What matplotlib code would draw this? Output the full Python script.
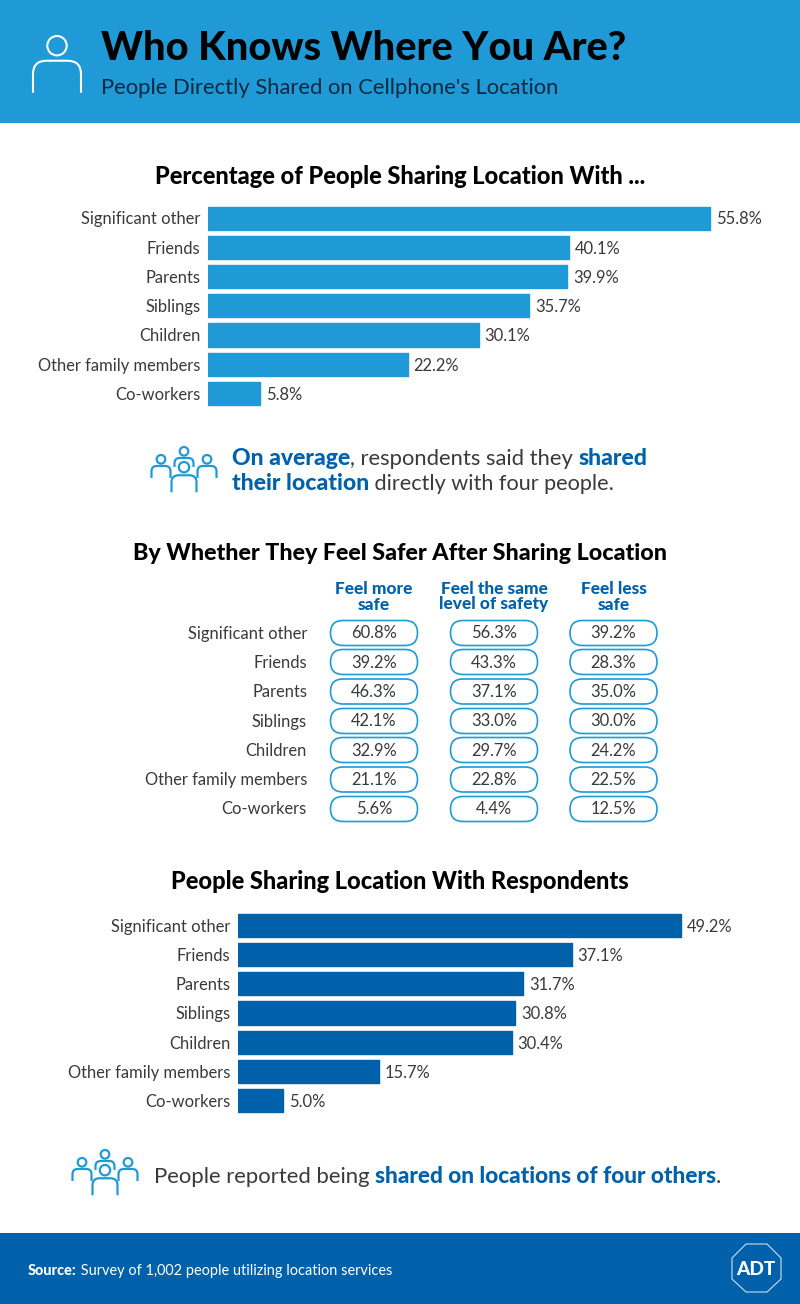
import matplotlib
matplotlib.use("Agg")
import matplotlib.pyplot as plt
from matplotlib.patches import FancyBboxPatch, Circle, Rectangle, Polygon, PathPatch
from matplotlib.path import Path

plt.rcParams['font.family'] = ['Lato', 'DejaVu Sans']

categories = ["Significant other", "Friends", "Parents", "Siblings", "Children",
              "Other family members", "Co-workers"]
sharing_with = [55.8, 40.1, 39.9, 35.7, 30.1, 22.2, 5.8]
sharing_to = [49.2, 37.1, 31.7, 30.8, 30.4, 15.7, 5.0]
feel_more = [60.8, 39.2, 46.3, 42.1, 32.9, 21.1, 5.6]
feel_same = [56.3, 43.3, 37.1, 33.0, 29.7, 22.8, 4.4]
feel_less = [39.2, 28.3, 35.0, 30.0, 24.2, 22.5, 12.5]
safety_heads = ["Feel more\nsafe", "Feel the same\nlevel of safety", "Feel less\nsafe"]

W, H = 800, 1304
LIGHT = "#1f9ad6"
DARK = "#0061ab"
TXT = "#3a3a3a"
LBL = 16.55
HEAD = 23.6

fig = plt.figure(figsize=(W / 100, H / 100), dpi=100, facecolor="white")
bg = fig.add_axes([0, 0, 1, 1])
bg.set_xlim(0, W)
bg.set_ylim(H, 0)
bg.axis("off")


def px(size):
    return size * 0.72


def T(x, y, s, size, color=TXT, weight="normal", ha="left", va="center", **kw):
    return bg.text(x, y + 1.5, s, fontsize=px(size), color=color, fontweight=weight,
                   ha=ha, va=va, **kw)


def advance(s, size, weight):
    """Width of a run including its leading and trailing spaces."""
    r = fig.canvas.get_renderer()
    a = bg.text(0, 0, "|" + s + "|", fontsize=px(size), fontweight=weight)
    b = bg.text(0, 0, "||", fontsize=px(size), fontweight=weight)
    w = a.get_window_extent(r).width - b.get_window_extent(r).width
    a.remove()
    b.remove()
    return w


def rich(x, y, parts, size):
    """Place consecutive runs of regular / bold text on a single line."""
    for s, col, w, sz in parts:
        bg.text(x, y, s, fontsize=px(sz or size), color=col, fontweight=w,
                ha="left", va="baseline")
        x += advance(s, sz or size, w)


def person(cx, top, r, w, h, lw, color):
    """Outline icon: a head circle with rounded shoulders below it."""
    bg.add_patch(Circle((cx, top + r), r, fill=False, ec=color, lw=lw))
    y0 = top + 2 * r + r * 0.55
    c = w * 0.28
    verts = [(cx - w / 2, y0 + h), (cx - w / 2, y0 + c), (cx - w / 2, y0), (cx - w / 2 + c, y0),
             (cx + w / 2 - c, y0), (cx + w / 2, y0), (cx + w / 2, y0 + c), (cx + w / 2, y0 + h)]
    codes = [Path.MOVETO, Path.LINETO, Path.CURVE3, Path.CURVE3, Path.LINETO,
             Path.CURVE3, Path.CURVE3, Path.LINETO]
    bg.add_patch(PathPatch(Path(verts, codes), fill=False, ec=color, lw=lw, capstyle="butt"))


def group(cx, top, scale=1.0):
    lw = 1.6
    s = scale
    person(cx - 23 * s, top + 8 * s, 4.3 * s, 19 * s, 12 * s, lw, LIGHT)
    person(cx + 23 * s, top + 8 * s, 4.3 * s, 19 * s, 12 * s, lw, LIGHT)
    person(cx, top, 4.3 * s, 19 * s, 9 * s, lw, LIGHT)
    person(cx, top + 15 * s, 5.2 * s, 25 * s, 17 * s, lw, LIGHT)


def bars(x0, y_top, y_bot, values, color):
    scale = 9.0
    x1 = W
    ax = fig.add_axes([x0 / W, 1 - y_bot / H, (x1 - x0) / W, (y_bot - y_top) / H])
    ax.set_xlim(0, (x1 - x0) / scale)
    ax.set_ylim(len(values) - 0.5, -0.5)
    ax.axis("off")
    ax.patch.set_alpha(0)
    pos = list(range(len(values)))
    ax.barh(pos, values, height=0.79, color=color, edgecolor=color, linewidth=1.0,
            joinstyle="round")
    for p, v, c in zip(pos, values, categories):
        ax.annotate(f"{v:.1f}%", (v, p), xytext=(4.2, -1), textcoords="offset points",
                    va="center", ha="left", fontsize=px(LBL), color=TXT)
        ax.annotate(c, (0, p), xytext=(-5.5, -1), textcoords="offset points",
                    va="center", ha="right", fontsize=px(LBL), color=TXT)


# Header and footer bands
bg.add_patch(Rectangle((0, 0), W, 123, fc=LIGHT, ec="none"))
bg.add_patch(Rectangle((0, 1233), W, 71, fc=DARK, ec="none"))
person(57, 36, 9.7, 48, 32, 1.5, "white")
T(101, 47.5, "Who Knows Where You Are?", 39.7, color="black", weight="black")
T(101, 87, "People Directly Shared on Cellphone's Location", 21.95, color="#0d2a40")

# Section 1
T(400, 175.5, "Percentage of People Sharing Location With ...", HEAD, color="black", weight="black", ha="center")
bars(208, 203.5, 408, sharing_with, LIGHT)
group(184, 447)
rich(232, 465, [("On average", DARK, "black", 23), (", respondents said they ", TXT, "normal", 22), ("shared", DARK, "black", 23)], 22)
rich(232, 490, [("their location", DARK, "black", 23), (" directly with four people.", TXT, "normal", 21.7)], 22)

# Section 2
T(400, 551.5, "By Whether They Feel Safer After Sharing Location", 23.25, color="black", weight="black", ha="center")
col_x = [374, 494, 613.5]
row_y = [633, 662, 691.5, 721, 750, 779.5, 809]
for cx, head, vals in zip(col_x, safety_heads, [feel_more, feel_same, feel_less]):
    T(cx, 595, head, 17.3, color=DARK, weight="black", ha="center", linespacing=1.0)
    for y, v in zip(row_y, vals):
        bg.add_patch(FancyBboxPatch((cx - 43.5, y - 12.5), 87, 25,
                                    boxstyle="round,pad=0,rounding_size=12.5", fc="white",
                                    ec=LIGHT, lw=1.2, mutation_aspect=1))
        T(cx, y - 1, f"{v:.1f}%", LBL, ha="center")
for y, c in zip(row_y, categories):
    T(307, y - 1, c, LBL, ha="right")

# Section 3
T(400, 880, "People Sharing Location With Respondents", HEAD, color="black", weight="black", ha="center")
bars(238, 910.5, 1115.5, sharing_to, DARK)
group(105, 1150, 1.0)
rich(154, 1183, [("People reported being ", TXT, "normal", 22.2), ("shared on locations of four others", DARK, "black", 22.65), (".", TXT, "normal", 22)], 22)

# Footer
rich(28, 1275, [("Source:", "white", "black", None), (" Survey of 1,002 people utilizing location services", "white", "normal", None)], 14.5)
oct_pts = [(746, 1244), (767, 1244), (781, 1258), (781, 1279), (767, 1292), (746, 1292), (732, 1279), (732, 1258)]
bg.add_patch(Polygon(oct_pts, closed=True, fill=False, ec="#cfe0ef", lw=0.8))
T(756, 1268, "ADT", 19, color="white", weight="black", ha="center")

fig.savefig("out.png", dpi=100, facecolor="white")
